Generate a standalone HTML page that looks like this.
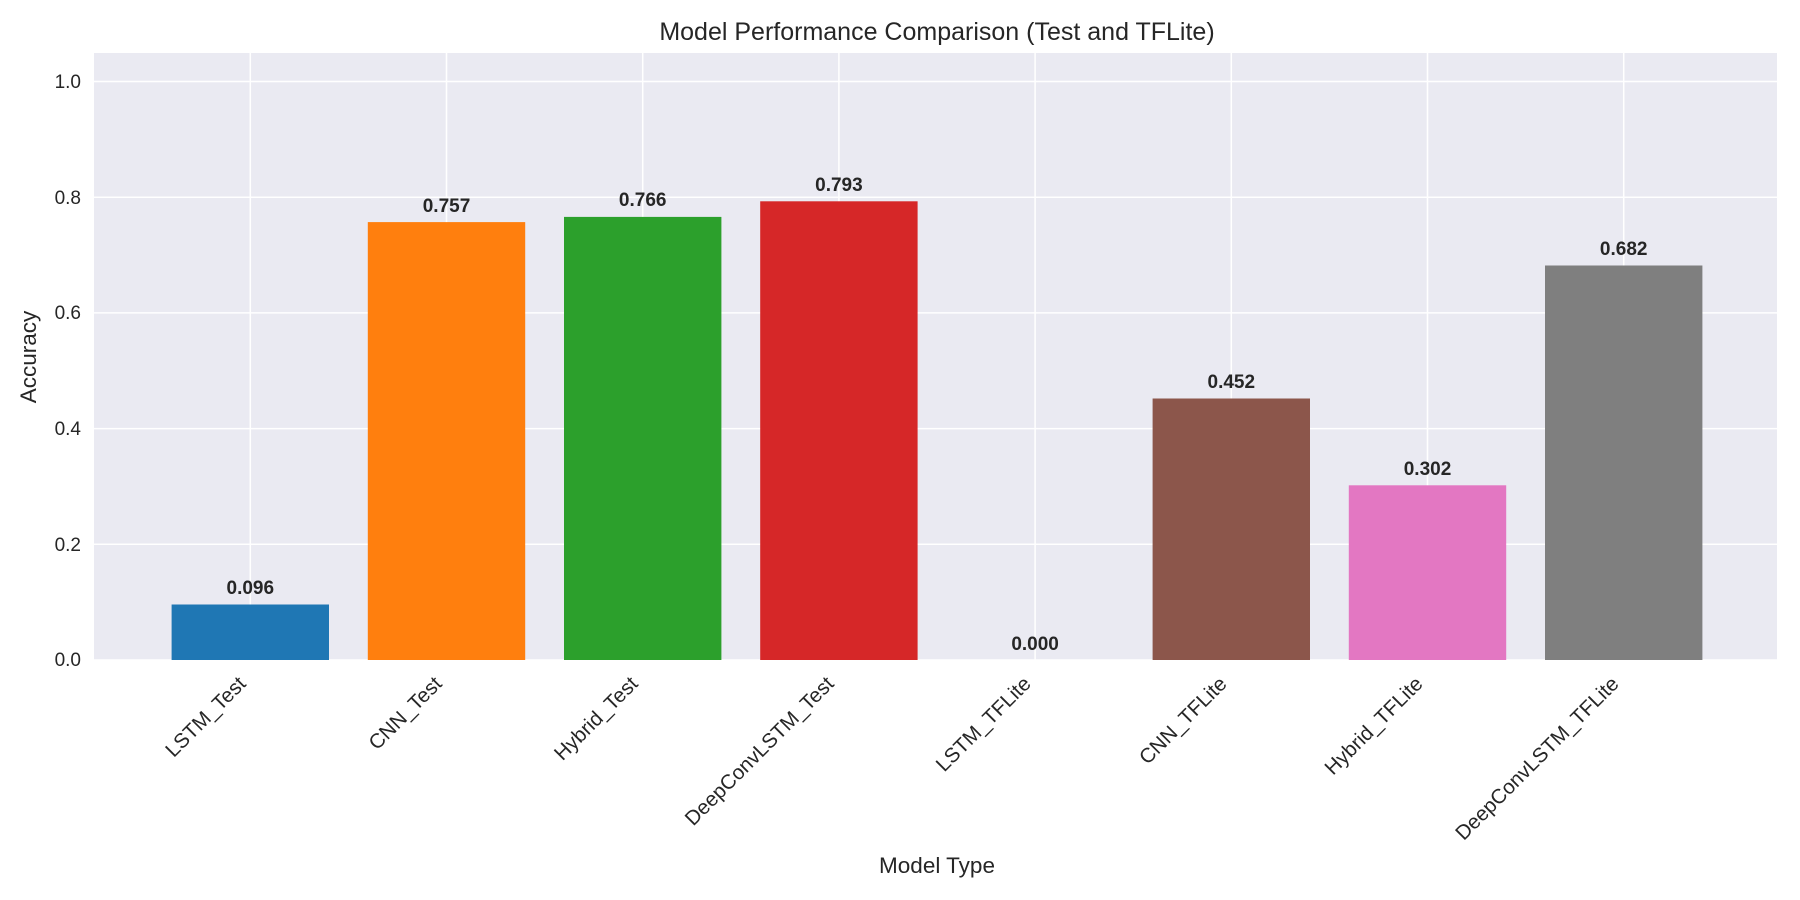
<!DOCTYPE html>
<html><head><meta charset="utf-8"><style>
html,body{margin:0;padding:0;background:#fff;}
svg{display:block;font-family:"Liberation Sans",sans-serif;}
</style></head><body>
<svg width="1800" height="900" viewBox="0 0 1800 900" xmlns="http://www.w3.org/2000/svg">
<rect x="94" y="53" width="1683" height="607" fill="#eaeaf2"/>
<g stroke="#fff" stroke-width="1.5">
<line x1="94" x2="1777" y1="660" y2="660"/>
<line x1="94" x2="1777" y1="544.3" y2="544.3"/>
<line x1="94" x2="1777" y1="428.6" y2="428.6"/>
<line x1="94" x2="1777" y1="312.9" y2="312.9"/>
<line x1="94" x2="1777" y1="197.2" y2="197.2"/>
<line x1="94" x2="1777" y1="81.5" y2="81.5"/>
<line y1="53" y2="660" x1="250.3" x2="250.3"/>
<line y1="53" y2="660" x1="446.5" x2="446.5"/>
<line y1="53" y2="660" x1="642.7" x2="642.7"/>
<line y1="53" y2="660" x1="838.9" x2="838.9"/>
<line y1="53" y2="660" x1="1035.1" x2="1035.1"/>
<line y1="53" y2="660" x1="1231.3" x2="1231.3"/>
<line y1="53" y2="660" x1="1427.5" x2="1427.5"/>
<line y1="53" y2="660" x1="1623.7" x2="1623.7"/>
</g>
<g>
<rect x="171.6" width="157.4" y="604.5" height="55.5" fill="#1f77b4"/>
<rect x="367.8" width="157.4" y="222.1" height="437.9" fill="#ff7f0e"/>
<rect x="564" width="157.4" y="216.9" height="443.1" fill="#2ca02c"/>
<rect x="760.2" width="157.4" y="201.3" height="458.7" fill="#d62728"/>
<rect x="1152.6" width="157.4" y="398.5" height="261.5" fill="#8c564b"/>
<rect x="1348.8" width="157.4" y="485.3" height="174.7" fill="#e377c2"/>
<rect x="1545" width="157.4" y="265.5" height="394.5" fill="#7f7f7f"/>
</g>
<g font-weight="bold" font-size="19" fill="#262626" text-anchor="middle">
<text x="250.3" y="594">0.096</text>
<text x="446.5" y="212">0.757</text>
<text x="642.7" y="206">0.766</text>
<text x="838.9" y="191">0.793</text>
<text x="1035.1" y="650">0.000</text>
<text x="1231.3" y="388">0.452</text>
<text x="1427.5" y="475">0.302</text>
<text x="1623.7" y="255">0.682</text>
</g>
<g font-size="19" fill="#262626" text-anchor="end">
<text x="81" y="666">0.0</text>
<text x="81" y="551">0.2</text>
<text x="81" y="435">0.4</text>
<text x="81" y="319">0.6</text>
<text x="81" y="204">0.8</text>
<text x="81" y="88">1.0</text>
</g>
<g font-size="20.5" fill="#262626" text-anchor="end">
<text transform="translate(247,685) rotate(-45)">LSTM_Test</text>
<text transform="translate(443,685) rotate(-45)">CNN_Test</text>
<text transform="translate(639,685) rotate(-45)">Hybrid_Test</text>
<text transform="translate(835,685) rotate(-45)">DeepConvLSTM_Test</text>
<text transform="translate(1032,685) rotate(-45)">LSTM_TFLite</text>
<text transform="translate(1228,685) rotate(-45)">CNN_TFLite</text>
<text transform="translate(1424,685) rotate(-45)">Hybrid_TFLite</text>
<text transform="translate(1620,685) rotate(-45)">DeepConvLSTM_TFLite</text>
</g>
<text x="937" y="873" font-size="22.5" fill="#262626" text-anchor="middle">Model Type</text>
<text transform="translate(36,357) rotate(-90)" font-size="22.5" fill="#262626" text-anchor="middle">Accuracy</text>
<text x="937" y="40" font-size="25" fill="#262626" text-anchor="middle">Model Performance Comparison (Test and TFLite)</text>
</svg>
</body></html>
